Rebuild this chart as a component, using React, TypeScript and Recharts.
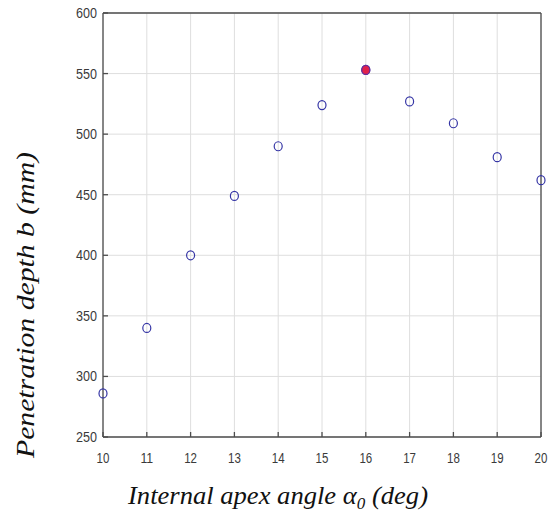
import { ScatterChart, Scatter, XAxis, YAxis, CartesianGrid, Label } from "recharts"

// internal apex angle (deg) vs penetration depth (mm)
const angles = [10, 11, 12, 13, 14, 15, 16, 17, 18, 19, 20]
const depths = [286, 340, 400, 449, 490, 524, 553, 527, 509, 481, 462]
const bestAngle = 16

const xTicks = [10, 11, 12, 13, 14, 15, 16, 17, 18, 19, 20]
const yTicks = [250, 300, 350, 400, 450, 500, 550, 600]

const points = angles.map((a, i) => ({ x: a, y: depths[i] }))
const best = points.filter((p) => p.x === bestAngle)

const axisColor = "#4d4d4d"
const tickFont = { fill: "#3a3a3a", fontSize: 15, fontFamily: "Liberation Sans, Arial, sans-serif" }
const labelFont = { fontFamily: "Liberation Serif, Times New Roman, serif", fontStyle: "italic", fontSize: 25, fill: "#111" }

const XTick = ({ x, y, payload }: any) => {
  const s = String(payload.value)
  return (
    <text x={x} y={y + 26} textAnchor="middle" textLength={s.length * 6.4} lengthAdjust="spacingAndGlyphs" style={tickFont}>
      {s}
    </text>
  )
}

const YTick = ({ x, y, payload }: any) => {
  const s = String(payload.value)
  return (
    <text x={x - 6} y={y + 5} textAnchor="end" textLength={s.length * 7} lengthAdjust="spacingAndGlyphs" style={tickFont}>
      {s}
    </text>
  )
}

const XLabel = () => (
  <text x={278} y={504} textAnchor="middle" textLength={300} lengthAdjust="spacingAndGlyphs" style={labelFont}>
    Internal apex angle α<tspan fontSize={16} dy={5}>0</tspan><tspan dy={-5}> (deg)</tspan>
  </text>
)

const YLabel = () => (
  <text x={25} y={305} textAnchor="middle" dominantBaseline="central" transform="rotate(-90, 25, 305)"
    textLength={306} lengthAdjust="spacingAndGlyphs" style={labelFont}>
    Penetration depth b (mm)
  </text>
)

export default function App() {
  return (
    <div style={{ position: "absolute", left: 0, top: 0, width: 553, height: 513, background: "#fff" }}>
      <ScatterChart width={553} height={513} margin={{ top: 12, right: 11, left: 8, bottom: 8 }}>
        <CartesianGrid stroke="#dedede" strokeWidth={1} />
        <XAxis type="number" dataKey="x" domain={[10, 20]} ticks={xTicks} height={68}
          stroke={axisColor} strokeWidth={1.3} tickSize={-5} tickMargin={5} tick={<XTick />}>
          <Label content={<XLabel />} />
        </XAxis>
        <XAxis xAxisId="top" orientation="top" type="number" dataKey="x" domain={[10, 20]} ticks={xTicks}
          height={1} stroke={axisColor} strokeWidth={1.3} tickSize={-5} tick={false} />
        <YAxis type="number" dataKey="y" domain={[250, 600]} ticks={yTicks} width={95}
          stroke={axisColor} strokeWidth={1.3} tickSize={-5} tickMargin={5} tick={<YTick />}>
          <Label content={<YLabel />} />
        </YAxis>
        <YAxis yAxisId="right" orientation="right" type="number" dataKey="y" domain={[250, 600]} ticks={yTicks}
          width={1} stroke={axisColor} strokeWidth={1.3} tickSize={-5} tick={false} />
        {/* binds the top / right box axes so they get drawn */}
        <Scatter data={points} xAxisId="top" yAxisId="right" isAnimationActive={false} shape={() => <g />} />
        <Scatter data={points} isAnimationActive={false}
          shape={(p: any) => <ellipse cx={p.cx} cy={p.cy} rx={4} ry={4.5} fill="none" stroke="#3535a5" strokeWidth={1.2} />} />
        <Scatter data={best} isAnimationActive={false}
          shape={(p: any) => <ellipse cx={p.cx} cy={p.cy} rx={4} ry={4.5} fill="#e0204a" stroke="#6a2a9a" strokeWidth={1.2} />} />
      </ScatterChart>
    </div>
  )
}
